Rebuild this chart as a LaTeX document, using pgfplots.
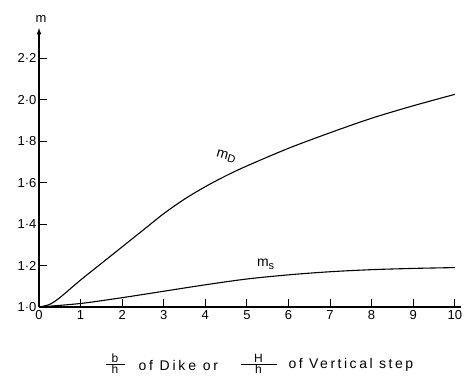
\documentclass[border=0pt]{standalone}
\usepackage{fontspec}
\setmainfont{Liberation Sans}
\usepackage{pgfplots}
\pgfplotsset{compat=1.18}
\begin{document}
\begin{tikzpicture}
\useasboundingbox (-39pt,-71pt) rectangle (425pt,307pt);
\begin{axis}[
  scale only axis,
  anchor=origin,
  at={(0pt,0pt)},
  width=422pt, height=279pt,
  xmin=0, xmax=10.15, ymin=1, ymax=2.345,
  axis lines=left,
  axis line style={line width=1.2pt},
  x axis line style={-},
  y axis line style={-latex},
  tick align=inside,
  major tick length=8pt,
  tick style={line width=0.9pt, black},
  xtick={0,1,...,10},
  ytick={1.0,1.2,1.4,1.6,1.8,2.0,2.2},
  yticklabels={1·0,1·2,1·4,1·6,1·8,2·0,2·2},
  /pgf/number format/assume math mode=true,
  ticklabel style={font=\fontsize{13}{15}\selectfont},
  yticklabel style={xshift=1pt},
  clip=false,
]
\addplot[smooth, line width=1.1pt, black] coordinates {
(0,1.0) (0.25,1.012) (0.5,1.045) (1,1.13) (1.5,1.21) (2,1.29) (2.5,1.37) (3,1.45) (3.5,1.52) (4,1.58) (4.5,1.633) (5,1.68) (6,1.765) (7,1.84) (8,1.91) (9,1.97) (10,2.025)
};
\addplot[smooth, line width=1.1pt, black] coordinates {
(0,1.0) (1,1.017) (2,1.045) (3,1.076) (4,1.107) (5,1.135) (6,1.155) (7,1.17) (8,1.18) (9,1.186) (10,1.19)
};
\node[rotate=-16, font=\fontsize{14}{16}\selectfont] at (axis cs:4.5,1.725) {m\raisebox{-2pt}{\fontsize{11}{13}\selectfont D}};
\node[font=\fontsize{14}{16}\selectfont] at (axis cs:5.45,1.205) {m\raisebox{-3pt}{\fontsize{11}{13}\selectfont s}};
\node[font=\fontsize{13}{15}\selectfont] at (axis cs:0.05,2.39) {m};
% x-axis label pieces
\node[font=\fontsize{12}{14}\selectfont] at (axis cs:1.83,0.725)
  {$\frac{\makebox[19pt]{b}}{\makebox[19pt]{h}}$};
\node[font=\fontsize{14}{16}\selectfont\addfontfeature{LetterSpace=20}] at (axis cs:3.35,0.72) {of Dike or};
\node[font=\fontsize{12}{14}\selectfont] at (axis cs:5.28,0.725)
  {$\frac{\makebox[36pt]{H}}{\makebox[36pt]{h}}$};
\node[font=\fontsize{14}{16}\selectfont\addfontfeature{LetterSpace=18}] at (axis cs:7.5,0.72) {of Vertical step};
\end{axis}
\end{tikzpicture}
\end{document}
